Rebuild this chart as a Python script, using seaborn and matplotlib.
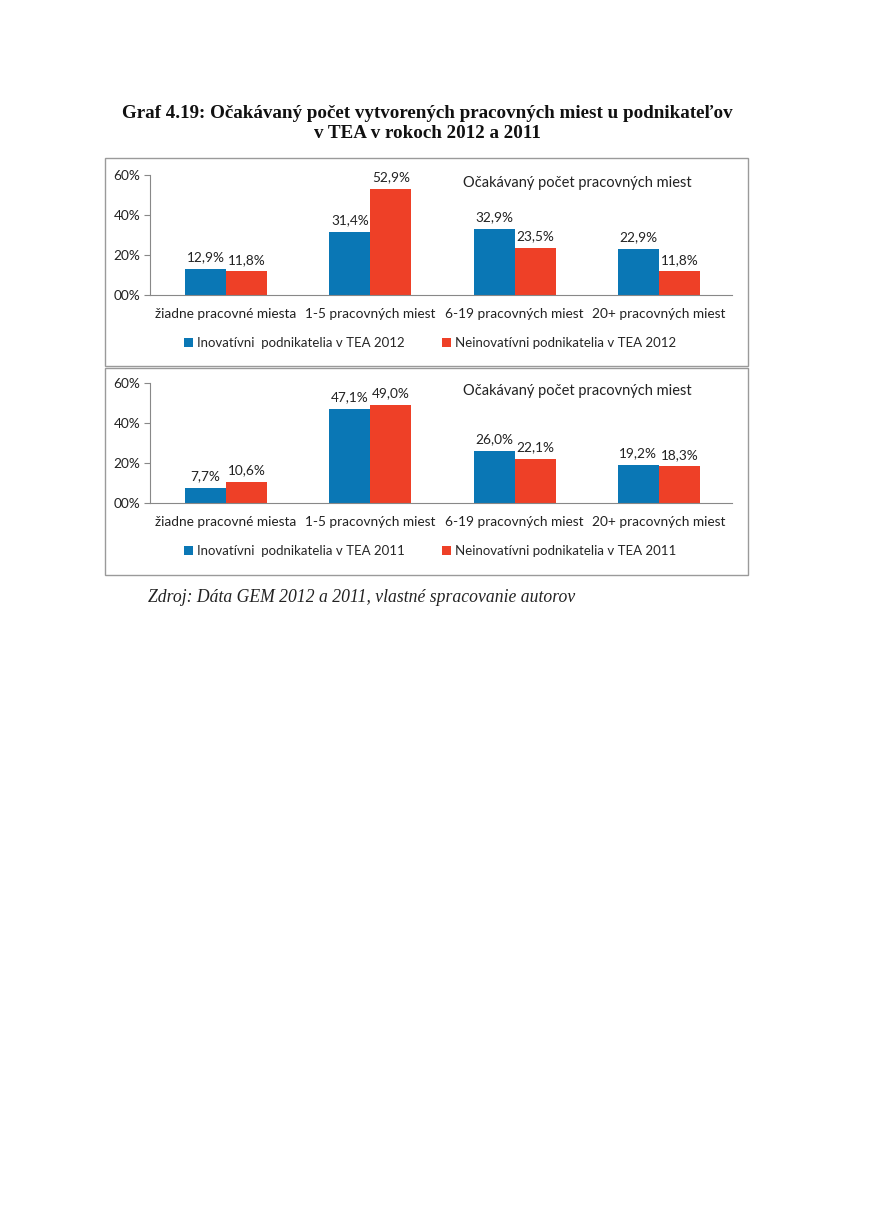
import pandas as pd
import numpy as np
import matplotlib
matplotlib.use("Agg")
import matplotlib.pyplot as plt
from matplotlib.patches import Rectangle
import seaborn as sns

categories = ["žiadne pracovné miesta", "1-5 pracovných miest",
              "6-19 pracovných miest", "20+ pracovných miest"]
inov_2012 = [12.9, 31.4, 32.9, 22.9]
neinov_2012 = [11.8, 52.9, 23.5, 11.8]
inov_2011 = [7.7, 47.1, 26.0, 19.2]
neinov_2011 = [10.6, 49.0, 22.1, 18.3]
ytick_vals = [0, 20, 40, 60]
ytick_labels = ["00%", "20%", "40%", "60%"]

BLUE = "#0a77b5"
RED = "#ee4027"

sns.set_theme(style="white")
plt.rcParams['font.family'] = ['Lato', 'DejaVu Sans']

W, H = 871, 1231
fig = plt.figure(figsize=(W / 100, H / 100), dpi=100)


def fy(px):
    return 1 - px / H


def draw_panel(rect, a, b, year):
    ax = fig.add_axes(rect)
    lab_a = "Inovatívni  podnikatelia v TEA " + year
    lab_b = "Neinovatívni podnikatelia v TEA " + year
    df = pd.DataFrame({
        "kat": categories * 2,
        "val": a + b,
        "skup": [lab_a] * 4 + [lab_b] * 4,
    })
    sns.barplot(data=df, x="kat", y="val", hue="skup", palette=[BLUE, RED],
                width=0.57, saturation=1, linewidth=0, edgecolor="none",
                ax=ax, legend=True)
    for cont in ax.containers:
        ax.bar_label(cont, labels=[f"{v:.1f}%".replace(".", ",") for v in cont.datavalues],
                     padding=4, fontsize=9.8, color="#222222")
    ax.set_xlim(-0.527, 3.506)
    ax.set_ylim(0, 60)
    ax.set_yticks(ytick_vals)
    ax.set_yticklabels(ytick_labels, fontsize=9.8, color="#222222")
    ax.set_xticks(range(4))
    ax.set_xticklabels(categories, fontsize=9.8, color="#222222")
    ax.set_xticks(np.arange(-0.5, 4, 1), minor=True)
    ax.tick_params(axis="x", which="major", length=0, pad=9)
    ax.tick_params(axis="x", which="minor", length=5, width=0.8, color="#888888", direction="out")
    ax.tick_params(axis="y", length=4, width=0.8, color="#888888", direction="out", pad=3, left=True)
    ax.set_xlabel("")
    ax.set_ylabel("")
    for s in ["top", "right"]:
        ax.spines[s].set_visible(False)
    for s in ["left", "bottom"]:
        ax.spines[s].set_color("#888888")
        ax.spines[s].set_linewidth(0.8)
    ax.text(0.538, 0.933, "Očakávaný počet pracovných miest", transform=ax.transAxes,
            ha="left", va="center", fontsize=10.5, color="#222222")
    ax.legend(loc="center", bbox_to_anchor=(0.481, -0.4), ncol=2, frameon=False,
              fontsize=9.5, handlelength=0.7, handleheight=0.7, handletextpad=0.3,
              columnspacing=2.8)
    return ax


left = 150 / W
width = (732 - 150) / W
draw_panel([left, fy(295), width, 120 / H], inov_2012, neinov_2012, "2012")
draw_panel([left, fy(503), width, 120 / H], inov_2011, neinov_2011, "2011")

# frames around the two charts
for y0, y1 in [(158, 366), (368, 575)]:
    fig.patches.append(Rectangle((105 / W, fy(y1)), (748 - 105) / W, (y1 - y0) / H,
                                 transform=fig.transFigure, fill=False,
                                 edgecolor="#9a9a9a", linewidth=1.0))

serif = ["Liberation Serif", "DejaVu Serif"]
fig.text(427 / W, fy(113), "Graf 4.19: Očakávaný počet vytvorených pracovných miest u podnikateľov",
         ha="center", va="center", fontsize=13.7, fontweight="bold",
         family=serif, color="#111111")
fig.text(427 / W, fy(133), "v TEA v rokoch 2012 a 2011",
         ha="center", va="center", fontsize=13.7, fontweight="bold",
         family=serif, color="#111111")
fig.text(148 / W, fy(598), "Zdroj: Dáta GEM 2012 a 2011, vlastné spracovanie autorov",
         ha="left", va="center", fontsize=12.7, style="italic",
         family=serif, color="#222222")

fig.savefig("out.png", dpi=100, facecolor="white")
